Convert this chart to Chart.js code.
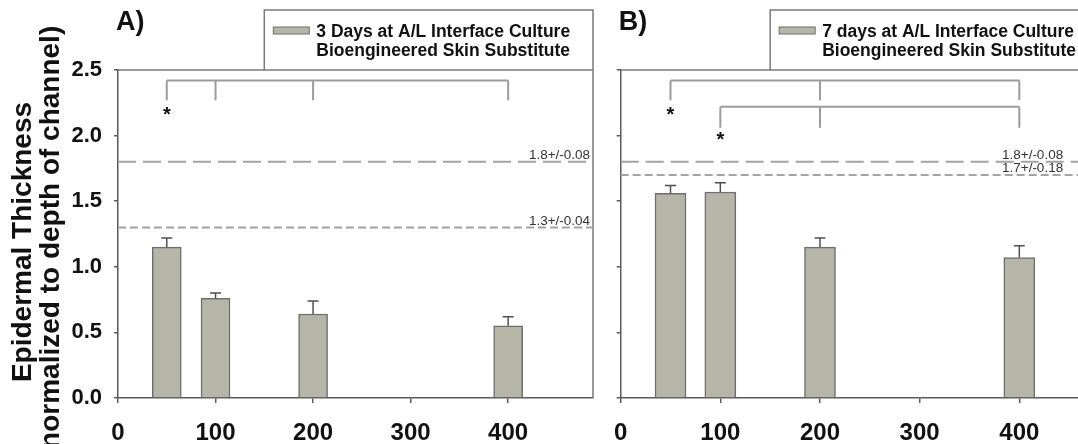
<!DOCTYPE html>
<html>
<head>
<meta charset="utf-8">
<script src="https://cdn.jsdelivr.net/npm/chart.js@4.4.1/dist/chart.umd.min.js"></script>
<style>
  html, body { margin: 0; padding: 0; background: #fff; overflow: hidden; }
  #wrap { position: relative; width: 1078px; height: 444px; overflow: hidden; }
  canvas { position: absolute; top: 0; }
  #chart-a { left: 0; }
  #chart-b { left: 598px; }
</style>
</head>
<body>
<div id="wrap">
  <canvas id="chart-a" width="598" height="444"></canvas>
  <canvas id="chart-b" width="513" height="444"></canvas>
</div>
<script>
// channel width on x, normalized epidermal thickness on y
const xTicks = [0, 100, 200, 300, 400];
const yTicks = [0, 0.5, 1.0, 1.5, 2.0, 2.5];

const channelWidth = [50, 100, 200, 400];
const thicknessDay3 = [1.15, 0.76, 0.64, 0.55];
const errorDay3 = [0.07, 0.04, 0.10, 0.07];
const thicknessDay7 = [1.56, 1.57, 1.15, 1.07];
const errorDay7 = [0.06, 0.07, 0.07, 0.09];

const legendDay3 = ["3 Days at A/L Interface Culture", "Bioengineered Skin Substitute"];
const legendDay7 = ["7 days at A/L Interface Culture", "Bioengineered Skin Substitute"];
const yTitle = ["Epidermal Thickness", "(normalized to depth of channel)"];

// flat (no channel) reference thickness
const refValuesA = [1.8, 1.3];
const refLabelsA = ["1.8+/-0.08", "1.3+/-0.04"];
const refValuesB = [1.8, 1.7];
const refLabelsB = ["1.8+/-0.08", "1.7+/-0.18"];

// significance brackets and stars
const bracketsA = [{ level: 2.42, foot: 2.27, at: [50, 100, 200, 400] }];
const bracketsB = [
    { level: 2.42, foot: 2.27, at: [50, 200, 400] },
    { level: 2.22, foot: 2.06, at: [100, 200, 400] }
];
const starsA = [{ x: 50, y: 2.18 }];
const starsB = [{ x: 50, y: 2.18 }, { x: 100, y: 1.99 }];

const FONT = "'Liberation Sans', Arial, Helvetica, sans-serif";
const axisColor = "#5a5a5a";
const barFill = "#b6b6a8";
const barBorder = "#6e6e6e";

const overlay = {
    id: "overlay",
    afterDraw(chart, args, o) {
        const ctx = chart.ctx;
        const { left, right, top, bottom } = chart.chartArea;
        const xs = chart.scales.x, ys = chart.scales.y;
        ctx.save();

        // legend box + plot frame (top, right)
        const bx = xs.getPixelForValue(150), by = 10;
        ctx.strokeStyle = "#7a7a7a";
        ctx.lineWidth = 1.5;
        ctx.beginPath();
        ctx.moveTo(bx, top);
        ctx.lineTo(bx, by);
        ctx.lineTo(right, by);
        ctx.lineTo(right, bottom);
        ctx.moveTo(left, top);
        ctx.lineTo(right, top);
        ctx.stroke();

        ctx.fillStyle = barFill;
        ctx.fillRect(bx + 9, 27, 36, 7);
        ctx.strokeStyle = barBorder;
        ctx.lineWidth = 1;
        ctx.strokeRect(bx + 9, 27, 36, 7);
        ctx.fillStyle = "#111";
        ctx.font = "bold 17.5px " + FONT;
        ctx.textBaseline = "middle";
        ctx.textAlign = "left";
        o.legend.forEach((t, i) => ctx.fillText(t, bx + 52, 32 + i * 19));

        // panel letter
        ctx.font = "bold 27px " + FONT;
        ctx.fillText(o.panel, left - 2, 23);

        // reference lines
        o.refs.forEach((v, i) => {
            const py = ys.getPixelForValue(v);
            ctx.strokeStyle = "#a3a3a3";
            ctx.lineWidth = 2;
            ctx.setLineDash(o.dashes[i]);
            ctx.beginPath();
            ctx.moveTo(left, py);
            ctx.lineTo(right, py);
            ctx.stroke();
            ctx.setLineDash([]);
            ctx.fillStyle = "#333";
            ctx.font = "13.5px " + FONT;
            ctx.textAlign = "right";
            ctx.textBaseline = "alphabetic";
            ctx.fillText(o.refLabels[i], xs.getPixelForValue(o.refLabelX), py - 2.5);
        });

        // brackets
        ctx.strokeStyle = "#9c9c9c";
        ctx.lineWidth = 2;
        o.brackets.forEach(b => {
            const ly = ys.getPixelForValue(b.level), fy = ys.getPixelForValue(b.foot);
            const x0 = xs.getPixelForValue(b.at[0]), x1 = xs.getPixelForValue(b.at[b.at.length - 1]);
            ctx.beginPath();
            ctx.moveTo(x0, ly);
            ctx.lineTo(x1, ly);
            b.at.forEach(a => {
                const px = xs.getPixelForValue(a);
                ctx.moveTo(px, ly);
                ctx.lineTo(px, fy);
            });
            ctx.stroke();
        });
        ctx.fillStyle = "#111";
        ctx.font = "bold 20px " + FONT;
        ctx.textAlign = "center";
        ctx.textBaseline = "middle";
        o.stars.forEach(s => ctx.fillText("*", xs.getPixelForValue(s.x), ys.getPixelForValue(s.y) + 4));

        // error bars (upper only)
        const meta = chart.getDatasetMeta(0);
        const ds = chart.data.datasets[0];
        ctx.strokeStyle = "#505050";
        ctx.lineWidth = 1.5;
        meta.data.forEach((bar, i) => {
            const yt = ys.getPixelForValue(ds.data[i].y + o.errors[i]);
            ctx.beginPath();
            ctx.moveTo(bar.x, bar.y);
            ctx.lineTo(bar.x, yt);
            ctx.moveTo(bar.x - 5.5, yt);
            ctx.lineTo(bar.x + 5.5, yt);
            ctx.stroke();
        });

        // two-line y title
        if (o.yTitle) {
            ctx.fillStyle = "#111";
            ctx.font = "bold 28px " + FONT;
            ctx.textAlign = "center";
            ctx.textBaseline = "middle";
            o.yTitle.forEach((t, i) => {
                ctx.save();
                ctx.translate(23 + i * 28, 242);
                ctx.rotate(-Math.PI / 2);
                ctx.fillText(t, 0, 0);
                ctx.restore();
            });
        }
        ctx.restore();
    }
};

function makeChart(canvasId, values, errors, extra, yWidth, barPx, showYLabels) {
    return new Chart(document.getElementById(canvasId), {
        type: "bar",
        data: {
            datasets: [{
                label: extra.legend.join(" "),
                data: channelWidth.map((x, i) => ({ x: x, y: values[i] })),
                backgroundColor: barFill,
                borderColor: barBorder,
                borderWidth: 1.5,
                barThickness: barPx
            }]
        },
        options: {
            responsive: false,
            animation: false,
            layout: { padding: { left: 0, right: 5, top: 70, bottom: 0 } },
            scales: {
                x: {
                    type: "linear",
                    min: 0,
                    max: 487,
                    offset: false,
                    afterBuildTicks: s => { s.ticks = xTicks.map(v => ({ value: v })); },
                    afterFit: s => { s.height = 46; },
                    grid: { drawOnChartArea: false, offset: false, tickLength: 5, color: axisColor, lineWidth: 1.5 },
                    border: { color: axisColor, width: 1.5 },
                    ticks: {
                        padding: 16,
                        color: "#111",
                        maxRotation: 0,
                        autoSkip: false,
                        font: { family: FONT, size: 24, weight: "bold" }
                    }
                },
                y: {
                    min: 0,
                    max: 2.5,
                    afterBuildTicks: s => { s.ticks = yTicks.map(v => ({ value: v })); },
                    afterFit: s => { s.width = yWidth; },
                    grid: { drawOnChartArea: false, tickLength: 4, color: axisColor, lineWidth: 1.5 },
                    border: { color: axisColor, width: 1.5 },
                    ticks: {
                        padding: 12,
                        color: "#111",
                        font: { family: FONT, size: 22, weight: "bold" },
                        callback: v => showYLabels ? Number(v).toFixed(1) : ""
                    }
                }
            },
            plugins: {
                legend: { display: false },
                tooltip: { enabled: false },
                overlay: extra
            }
        },
        plugins: [overlay]
    });
}

const chartA = makeChart("chart-a", thicknessDay3, errorDay3, {
    panel: "A)",
    legend: legendDay3,
    refs: refValuesA,
    refLabels: refLabelsA,
    refLabelX: 484,
    dashes: [[18, 7], [8, 4]],
    brackets: bracketsA,
    stars: starsA,
    errors: errorDay3,
    yTitle: yTitle
}, 118, 29, true);

const chartB = makeChart("chart-b", thicknessDay7, errorDay7, {
    panel: "B)",
    legend: legendDay7,
    refs: refValuesB,
    refLabels: refLabelsB,
    refLabelX: 444,
    dashes: [[18, 7], [8, 4]],
    brackets: bracketsB,
    stars: starsB,
    errors: errorDay7,
    yTitle: null
}, 14, 31, false);
</script>
</body>
</html>
